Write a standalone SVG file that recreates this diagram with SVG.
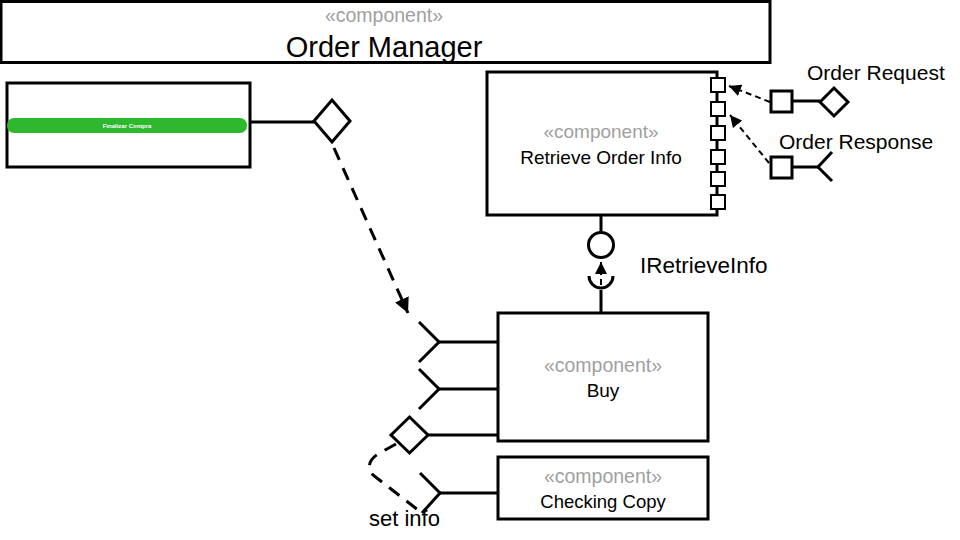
<svg xmlns="http://www.w3.org/2000/svg" width="960" height="540" viewBox="0 0 960 540">
<defs>
<style>
.box{fill:#fff;stroke:#000;stroke-width:3}
.ln{fill:none;stroke:#000;stroke-width:3}
.thin{fill:#fff;stroke:#000;stroke-width:2}
.dash{fill:none;stroke:#000;stroke-width:3;stroke-dasharray:13 9}
.dash2{fill:none;stroke:#000;stroke-width:2;stroke-dasharray:6 4}
.st{font-family:"Liberation Sans",Arial,sans-serif;fill:#a0a0a0;text-anchor:middle}
.nm{font-family:"Liberation Sans",Arial,sans-serif;fill:#000;text-anchor:middle}
.lb{font-family:"Liberation Sans",Arial,sans-serif;fill:#000}
</style>
<marker id="ah" viewBox="0 0 10 10" refX="10" refY="5" markerWidth="5" markerHeight="5" orient="auto" markerUnits="strokeWidth"><path d="M0,0 L10,5 L0,10 z" fill="#000"/></marker>
<marker id="ah2" viewBox="0 0 10 10" refX="10" refY="5" markerWidth="6" markerHeight="6" orient="auto" markerUnits="strokeWidth"><path d="M0,0 L10,5 L0,10 z" fill="#000"/></marker>
</defs>
<rect width="960" height="540" fill="#fff"/>

<g id="order-manager">
<rect class="box" x="1" y="1.5" width="769" height="61"/>
<text class="st" x="384" y="22" font-size="19.5">«component»</text>
<text class="nm" x="384" y="57" font-size="29">Order Manager</text>
</g>

<g id="finalizar">
<rect class="box" x="7" y="83" width="243" height="84"/>
<rect x="7" y="118" width="240" height="15" rx="7" fill="#2eb82e"/>
<text x="127" y="128" font-family="Liberation Sans,Arial,sans-serif" font-size="6" font-weight="bold" fill="#fff" text-anchor="middle">Finalizar Compra</text>
<line class="ln" x1="250" y1="122" x2="315" y2="122"/>
<polygon class="box" points="314,121 332,100 350,121 332,142"/>
</g>

<g id="retrieve-order-info">
<rect class="box" x="487" y="72" width="230" height="143"/>
<text class="st" x="601" y="138" font-size="19">«component»</text>
<text class="nm" x="601" y="164" font-size="19">Retrieve Order Info</text>
<rect class="thin" x="711" y="78" width="14" height="14"/>
<rect class="thin" x="711" y="102" width="14" height="14"/>
<rect class="thin" x="711" y="126" width="14" height="14"/>
<rect class="thin" x="711" y="150" width="14" height="14"/>
<rect class="thin" x="711" y="172" width="14" height="14"/>
<rect class="thin" x="711" y="195" width="14" height="14"/>
</g>

<g id="order-request">
<rect class="box" x="771" y="91" width="21" height="21"/>
<line class="ln" x1="792" y1="101" x2="820" y2="101"/>
<polygon class="box" points="820,102 834,88 848,102 834,116"/>
<text class="lb" x="807" y="80" font-size="21">Order Request</text>
</g>

<g id="order-response">
<rect class="box" x="771" y="157" width="21" height="21"/>
<line class="ln" x1="792" y1="167" x2="818" y2="167"/>
<polyline class="ln" points="832,152 818,167 832,181"/>
<text class="lb" x="779" y="149" font-size="21">Order Response</text>
</g>

<g id="iretrieveinfo">
<line class="ln" x1="601" y1="215" x2="601" y2="232"/>
<circle class="box" cx="601" cy="245" r="12.5"/>
<path class="ln" d="M589,276 A12,12 0 0 0 613,276"/>
<line class="ln" x1="601" y1="290" x2="601" y2="313"/>
<text class="lb" x="640" y="273" font-size="22.5">IRetrieveInfo</text>
</g>

<g id="buy">
<rect class="box" x="498" y="313" width="210" height="128"/>
<text class="st" x="603" y="372" font-size="19.5">«component»</text>
<text class="nm" x="603" y="397" font-size="19">Buy</text>
<line class="ln" x1="439" y1="342" x2="498" y2="342"/>
<polyline class="ln" points="419,322 439,342 419,362"/>
<line class="ln" x1="439" y1="389" x2="498" y2="389"/>
<polyline class="ln" points="419,369 439,389 419,409"/>
<line class="ln" x1="428" y1="435" x2="498" y2="435"/>
<polygon class="box" points="391,435 409.5,417 428,435 409.5,453"/>
</g>

<g id="checking-copy">
<rect class="box" x="498" y="457" width="210" height="62"/>
<text class="st" x="603" y="483" font-size="19.5">«component»</text>
<text class="nm" x="603" y="508" font-size="18.5">Checking Copy</text>
<line class="ln" x1="439" y1="493" x2="498" y2="493"/>
<polyline class="ln" points="420,473 440,493 422,513"/>
</g>

<text class="lb" x="369" y="526" font-size="22">set info</text>

<g id="connectors">
<line class="dash" x1="334" y1="148" x2="408" y2="313" marker-end="url(#ah)"/>
<line class="dash2" x1="770" y1="102" x2="729" y2="86" marker-end="url(#ah2)"/>
<line class="dash2" x1="769" y1="163" x2="730" y2="115" marker-end="url(#ah2)"/>
<line class="dash2" x1="601" y1="285" x2="601" y2="262" marker-end="url(#ah2)"/>
<path class="dash" d="M396,444 L378,454 Q364,463 373,475 L418,510"/>
</g>
</svg>
